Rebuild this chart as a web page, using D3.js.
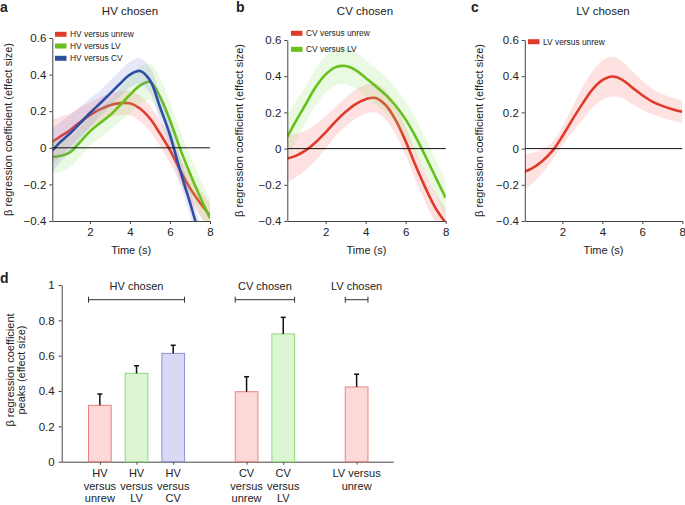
<!DOCTYPE html>
<html><head><meta charset="utf-8">
<script src="https://cdn.jsdelivr.net/npm/d3@7"></script>
<style>
body{margin:0;background:#fff}
svg{display:block}
text{font-family:"Liberation Sans",Arial,Helvetica,sans-serif;fill:#222}
</style>
</head><body>
<svg id="chart" width="685" height="505"></svg>
<script>
// ---------- DATA ----------
const timeA = [0.12,0.5,1,1.5,2,2.5,3,3.5,4,4.5,5,5.5,6,6.5,7,7.5,8];
const timeB = [0.08,0.5,1,1.5,2,2.5,3,3.5,4,4.5,5,5.5,6,6.5,7,7.5,8];
const timeC = [0.12,0.5,1,1.5,2,2.5,3,3.5,4,4.5,5,5.5,6,6.5,7,7.5,8];

const hvVsUnrew = [0.033,0.06,0.096,0.14,0.178,0.21,0.233,0.244,0.243,0.215,0.16,0.078,-0.013,-0.12,-0.22,-0.30,-0.37];
const hvVsUnrewSE = [0.12,0.11,0.09,0.08,0.07,0.065,0.065,0.065,0.065,0.07,0.07,0.07,0.07,0.07,0.07,0.07,0.07];
const hvVsLV = [-0.05,-0.045,-0.025,0.03,0.09,0.135,0.178,0.232,0.29,0.34,0.36,0.28,0.151,-0.003,-0.14,-0.267,-0.385];
const hvVsLVSE = [0.09,0.09,0.08,0.08,0.08,0.08,0.08,0.09,0.1,0.1,0.1,0.1,0.1,0.1,0.1,0.1,0.1];
const hvVsCV = [-0.016,0.03,0.078,0.133,0.19,0.242,0.296,0.35,0.40,0.42,0.369,0.223,0.07,-0.122,-0.30,-0.48,-0.62];
const hvVsCVSE = [0.12,0.11,0.1,0.09,0.08,0.07,0.07,0.07,0.07,0.07,0.07,0.07,0.07,0.07,0.07,0.07,0.07];

const cvVsUnrew = [-0.055,-0.04,-0.01,0.035,0.09,0.15,0.203,0.246,0.273,0.28,0.24,0.157,0.04,-0.095,-0.22,-0.33,-0.41];
const cvVsUnrewSE = [0.13,0.12,0.11,0.1,0.09,0.08,0.08,0.08,0.08,0.08,0.08,0.08,0.08,0.08,0.08,0.08,0.08];
const cvVsLV = [0.064,0.15,0.245,0.34,0.41,0.45,0.456,0.434,0.39,0.345,0.297,0.237,0.16,0.065,-0.045,-0.16,-0.272];
const cvVsLVSE = [0.12,0.11,0.1,0.1,0.1,0.1,0.1,0.1,0.1,0.1,0.1,0.1,0.1,0.1,0.1,0.1,0.1];

const lvVsUnrew = [-0.127,-0.108,-0.068,-0.013,0.068,0.16,0.247,0.326,0.378,0.398,0.38,0.337,0.295,0.26,0.236,0.218,0.203];
const lvVsUnrewSE = [0.095,0.085,0.065,0.05,0.05,0.07,0.09,0.1,0.11,0.11,0.1,0.09,0.08,0.07,0.065,0.063,0.063];

const yTicks = [-0.4,-0.2,0,0.2,0.4,0.6];
const xTicks = [2,4,6,8];

const barCategories = [["HV","versus","unrew"],["HV","versus","LV"],["HV","versus","CV"],["CV","versus","unrew"],["CV","versus","LV"],["LV versus","unrew"]];
const barSlots = [0,1,2,4,5,7];
const barValues = [0.319,0.50,0.613,0.396,0.723,0.423];
const barErrors = [0.064,0.043,0.046,0.085,0.094,0.072];
const barKinds = ["red","green","blue","red","green","red"];
const barTicks = [0,0.2,0.4,0.6,0.8,1];
const groupNames = ["HV chosen","CV chosen","LV chosen"];
const groupFrom = [0,4,7];
const groupTo = [2,5,7];

// ---------- STYLE ----------
const lineCol = {red:"#df3b2a", green:"#67c01c", blue:"#2d4fa2"};
const bandCol = {red:"rgba(250,120,120,0.22)", green:"rgba(150,225,110,0.20)", blue:"rgba(120,120,225,0.18)"};
const barFill = {red:"#fdd8d8", green:"#dcf5d3", blue:"#d9d9f4"};
const barStroke = {red:"#e8837d", green:"#92d77c", blue:"#8f92d9"};
const curve = d3.curveCatmullRom.alpha(0.5);

const svg = d3.select("#chart");

function fmtY(d){ return d===0 ? "0" : d3.format(".1f")(d); }

function panel(cfg){
  const g = svg.append("g");
  const x = d3.scaleLinear().domain([cfg.time[0],8]).range(cfg.xr);
  const y = d3.scaleLinear().domain([-0.4,0.6]).range(cfg.yr);
  const cid = "clip"+cfg.id;
  g.append("clipPath").attr("id",cid).append("rect")
    .attr("x",cfg.xr[0]).attr("y",cfg.yr[1]-6).attr("width",cfg.xr[1]-cfg.xr[0]).attr("height",cfg.yr[0]-cfg.yr[1]+6);
  const plot = g.append("g").attr("clip-path","url(#"+cid+")");
  cfg.series.forEach(s=>{
    const pts = cfg.time.map((t,i)=>({t, v:s.values[i], e:s.se[i]}));
    plot.append("path").datum(pts)
      .attr("d", d3.area().curve(curve).x(d=>x(d.t)).y0(d=>y(d.v-d.e)).y1(d=>y(d.v+d.e)))
      .attr("fill", bandCol[s.kind]);
    plot.append("path").datum(pts)
      .attr("d", d3.line().curve(curve).x(d=>x(d.t)).y(d=>y(d.v)))
      .attr("fill","none").attr("stroke",lineCol[s.kind]).attr("stroke-width",2.6);
  });
  g.append("line").attr("x1",x(cfg.time[0])).attr("x2",x(8)).attr("y1",y(0)).attr("y2",y(0))
    .attr("stroke","#111").attr("stroke-width",1);
  const ya = g.append("g").attr("transform",`translate(${cfg.xr[0]},0)`)
    .call(d3.axisLeft(y).tickValues(yTicks).tickFormat(fmtY).tickSize(3).tickSizeOuter(0).tickPadding(3));
  const xa = g.append("g").attr("transform",`translate(0,${cfg.yr[0]})`)
    .call(d3.axisBottom(x).tickValues(xTicks).tickFormat(d3.format("d")).tickSize(3).tickSizeOuter(0).tickPadding(4));
  [ya,xa].forEach(a=>{
    a.selectAll("path,line").attr("stroke","#444");
    a.selectAll("text").attr("font-size",11.5).attr("fill","#222").style("font-family","Liberation Sans, Arial, sans-serif");
  });
  g.append("text").attr("x",cfg.titleX).attr("y",15).attr("text-anchor","middle").attr("font-size",11.5).text(cfg.title);
  g.append("text").attr("x",cfg.letterX).attr("y",12).attr("font-size",14).attr("font-weight","bold").text(cfg.letter);
  g.append("text").attr("transform",`translate(${cfg.ylabX},${(cfg.yr[0]+cfg.yr[1])/2}) rotate(-90)`)
    .attr("text-anchor","middle").attr("font-size",11).text("β regression coefficient (effect size)");
  g.append("text").attr("x",(cfg.xr[0]+cfg.xr[1])/2).attr("y",254).attr("text-anchor","middle").attr("font-size",11).text("Time (s)");
  cfg.series.forEach((s,i)=>{
    const ly = cfg.legY[i];
    g.append("rect").attr("x",cfg.legX).attr("y",ly-2.5).attr("width",11.5).attr("height",5).attr("fill",lineCol[s.kind]);
    g.append("text").attr("x",cfg.legX+15).attr("y",ly+3).attr("font-size",8.4).text(s.name);
  });
}

panel({id:"a", letter:"a", letterX:0, title:"HV chosen", titleX:130, ylabX:12, time:timeA, xr:[52.3,210], yr:[221,38],
  legX:55, legY:[34.3,46,58.3],
  series:[{name:"HV versus unrew",kind:"red",values:hvVsUnrew,se:hvVsUnrewSE},
          {name:"HV versus LV",kind:"green",values:hvVsLV,se:hvVsLVSE},
          {name:"HV versus CV",kind:"blue",values:hvVsCV,se:hvVsCVSE}]});
panel({id:"b", letter:"b", letterX:236, title:"CV chosen", titleX:365, ylabX:243, time:timeB, xr:[287.3,445.7], yr:[221,40],
  legX:291, legY:[33.3,49.3],
  series:[{name:"CV versus unrew",kind:"red",values:cvVsUnrew,se:cvVsUnrewSE},
          {name:"CV versus LV",kind:"green",values:cvVsLV,se:cvVsLVSE}]});
panel({id:"c", letter:"c", letterX:471, title:"LV chosen", titleX:603, ylabX:483, time:timeC, xr:[524.8,682.3], yr:[221,40],
  legX:528, legY:[41.7],
  series:[{name:"LV versus unrew",kind:"red",values:lvVsUnrew,se:lvVsUnrewSE}]});

// ---------- PANEL d ----------
(function(){
  const g = svg.append("g");
  const x = d3.scaleLinear().domain([-1.04,8]).range([61.7,393.3]);
  const y = d3.scaleLinear().domain([0,1]).range([461.7,285]);
  const bw = 22.7;
  const ya = g.append("g").attr("transform","translate(61.7,0)")
    .call(d3.axisLeft(y).tickValues(barTicks).tickFormat(d=>(d===0||d===1)?String(d):d3.format(".1f")(d)).tickSize(3).tickSizeOuter(0).tickPadding(4));
  const xa = g.append("g").attr("transform","translate(0,461.7)")
    .call(d3.axisBottom(x).tickValues(barSlots).tickFormat("").tickSize(3).tickSizeOuter(0));
  [ya,xa].forEach(a=>{
    a.selectAll("path,line").attr("stroke","#444");
    a.selectAll("text").attr("font-size",11.5).attr("fill","#222").style("font-family","Liberation Sans, Arial, sans-serif");
  });
  barValues.forEach((v,i)=>{
    const cx = x(barSlots[i]);
    const k = barKinds[i];
    g.append("rect").attr("x",cx-bw/2).attr("y",y(v)).attr("width",bw).attr("height",y(0)-y(v))
      .attr("fill",barFill[k]).attr("stroke",barStroke[k]).attr("stroke-width",1);
    const top = y(v+barErrors[i]);
    g.append("line").attr("x1",cx).attr("x2",cx).attr("y1",y(v)).attr("y2",top).attr("stroke","#111").attr("stroke-width",1.5);
    g.append("line").attr("x1",cx-2.5).attr("x2",cx+2.5).attr("y1",top).attr("y2",top).attr("stroke","#111").attr("stroke-width",1.5);
    barCategories[i].forEach((t,j)=>{
      g.append("text").attr("x",cx).attr("y",477+12.5*j).attr("text-anchor","middle").attr("font-size",11).text(t);
    });
  });
  groupNames.forEach((n,i)=>{
    const x1 = x(groupFrom[i])-bw/2, x2 = x(groupTo[i])+bw/2;
    g.append("line").attr("x1",x1).attr("x2",x2).attr("y1",299.7).attr("y2",299.7).attr("stroke","#333").attr("stroke-width",1);
    [x1,x2].forEach(xx=>g.append("line").attr("x1",xx).attr("x2",xx).attr("y1",296.7).attr("y2",302.7).attr("stroke","#333").attr("stroke-width",1));
    g.append("text").attr("x",(x1+x2)/2).attr("y",290).attr("text-anchor","middle").attr("font-size",11).text(n);
  });
  g.append("text").attr("x",0).attr("y",283).attr("font-size",14).attr("font-weight","bold").text("d");
  const yl = g.append("text").attr("transform","translate(14,370) rotate(-90)").attr("text-anchor","middle").attr("font-size",11);
  yl.append("tspan").attr("x",0).attr("dy",0).text("β regression coefficient");
  yl.append("tspan").attr("x",0).attr("dy",11).text("peaks (effect size)");
})();
</script>
</body></html>
